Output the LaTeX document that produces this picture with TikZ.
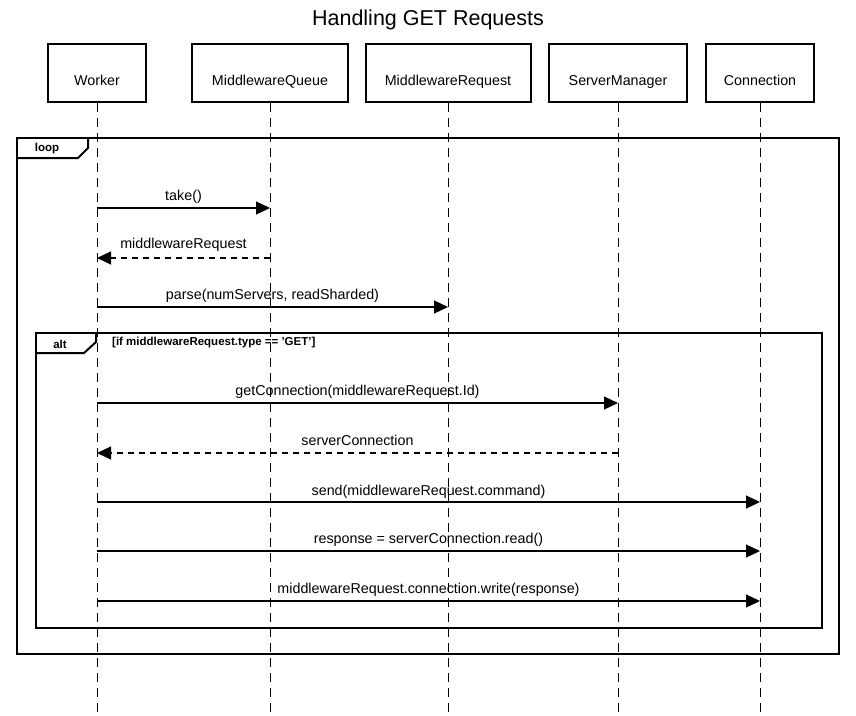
\documentclass[tikz,border=0pt]{standalone}
\usepackage{fontspec}
\setmainfont{Liberation Sans}
\usetikzlibrary{arrows.meta}
% header labels sit a little below the middle of their boxes
\newcommand\hdrtext[1]{\raisebox{-12pt}[0pt][0pt]{#1}}
\begin{document}
\begin{tikzpicture}[x=1pt,y=-1pt,
  actor/.style={draw, line width=2pt, minimum height=58pt, inner sep=0pt,
    font=\fontsize{14.3}{16}\selectfont},
  lifeline/.style={line width=1pt, dash pattern=on 9pt off 6pt},
  msg/.style={line width=1.2pt, -{Triangle[length=14pt,width=13pt]}},
  reply/.style={msg, dash pattern=on 6pt off 5pt},
  lbl/.style={font=\fontsize{14.3}{16}\selectfont, inner sep=0pt},
  framebox/.style={line width=2pt},
  tag/.style={font=\bfseries\fontsize{11.5}{13}\selectfont, inner sep=0pt}]
\useasboundingbox (0,0) rectangle (856,715);

% title
\node[font=\fontsize{21.5}{25}\selectfont] (title) at (428,20) {Handling GET Requests};

% participants
\node[actor, minimum width=98pt]  (worker) at (97,73)  {\hdrtext{Worker}};
\node[actor, minimum width=156pt] (queue)  at (270,73) {\hdrtext{MiddlewareQueue}};
\node[actor, minimum width=165pt] (mreq)   at (448,73) {\hdrtext{MiddlewareRequest}};
\node[actor, minimum width=138pt] (smgr)   at (618,73) {\hdrtext{ServerManager}};
\node[actor, minimum width=108pt] (conn)   at (760,73) {\hdrtext{Connection}};

% combined fragments
\draw[framebox] (17,138) rectangle (839,654);
\draw[framebox] (17,158) -- (78,158) -- (88,148) -- (88,138);
\node[tag] (looptag) at (47,149) {loop};

\draw[framebox] (36,333) rectangle (822,628);
\draw[framebox] (36,353) -- (84,353) -- (96,342) -- (96,333);
\node[tag] (alttag) at (60,344) {alt};
\node[tag, anchor=west] (guard) at (112,343) {[if middlewareRequest.type == 'GET']};

% lifelines
\coordinate (bottom) at (0,715);
\foreach \p in {worker,queue,mreq,smgr,conn}
  \draw[lifeline] (\p.south) -- (\p |- bottom);

% message rows
\coordinate (r1) at (0,208);
\coordinate (r2) at (0,258);
\coordinate (r3) at (0,307);
\coordinate (r4) at (0,403);
\coordinate (r5) at (0,453);
\coordinate (r6) at (0,502);
\coordinate (r7) at (0,551);
\coordinate (r8) at (0,601);

\draw[msg] (worker |- r1) -- node[lbl, yshift=11pt] {take()} (queue |- r1);
\draw[reply] (queue |- r2) -- node[lbl, yshift=13pt] {middlewareRequest} (worker |- r2);
\draw[msg] (worker |- r3) -- node[lbl, yshift=11pt] {parse(numServers, readSharded)} (mreq |- r3);
\draw[msg] (worker |- r4) -- node[lbl, yshift=11pt] {getConnection(middlewareRequest.Id)} (smgr |- r4);
\draw[reply] (smgr |- r5) -- node[lbl, yshift=13pt] {serverConnection} (worker |- r5);
\draw[msg] (worker |- r6) -- node[lbl, yshift=10pt] {send(middlewareRequest.command)} (conn |- r6);
\draw[msg] (worker |- r7) -- node[lbl, yshift=11pt] {response = serverConnection.read()} (conn |- r7);
\draw[msg] (worker |- r8) -- node[lbl, yshift=11pt] {middlewareRequest.connection.write(response)} (conn |- r8);
\end{tikzpicture}
\end{document}
